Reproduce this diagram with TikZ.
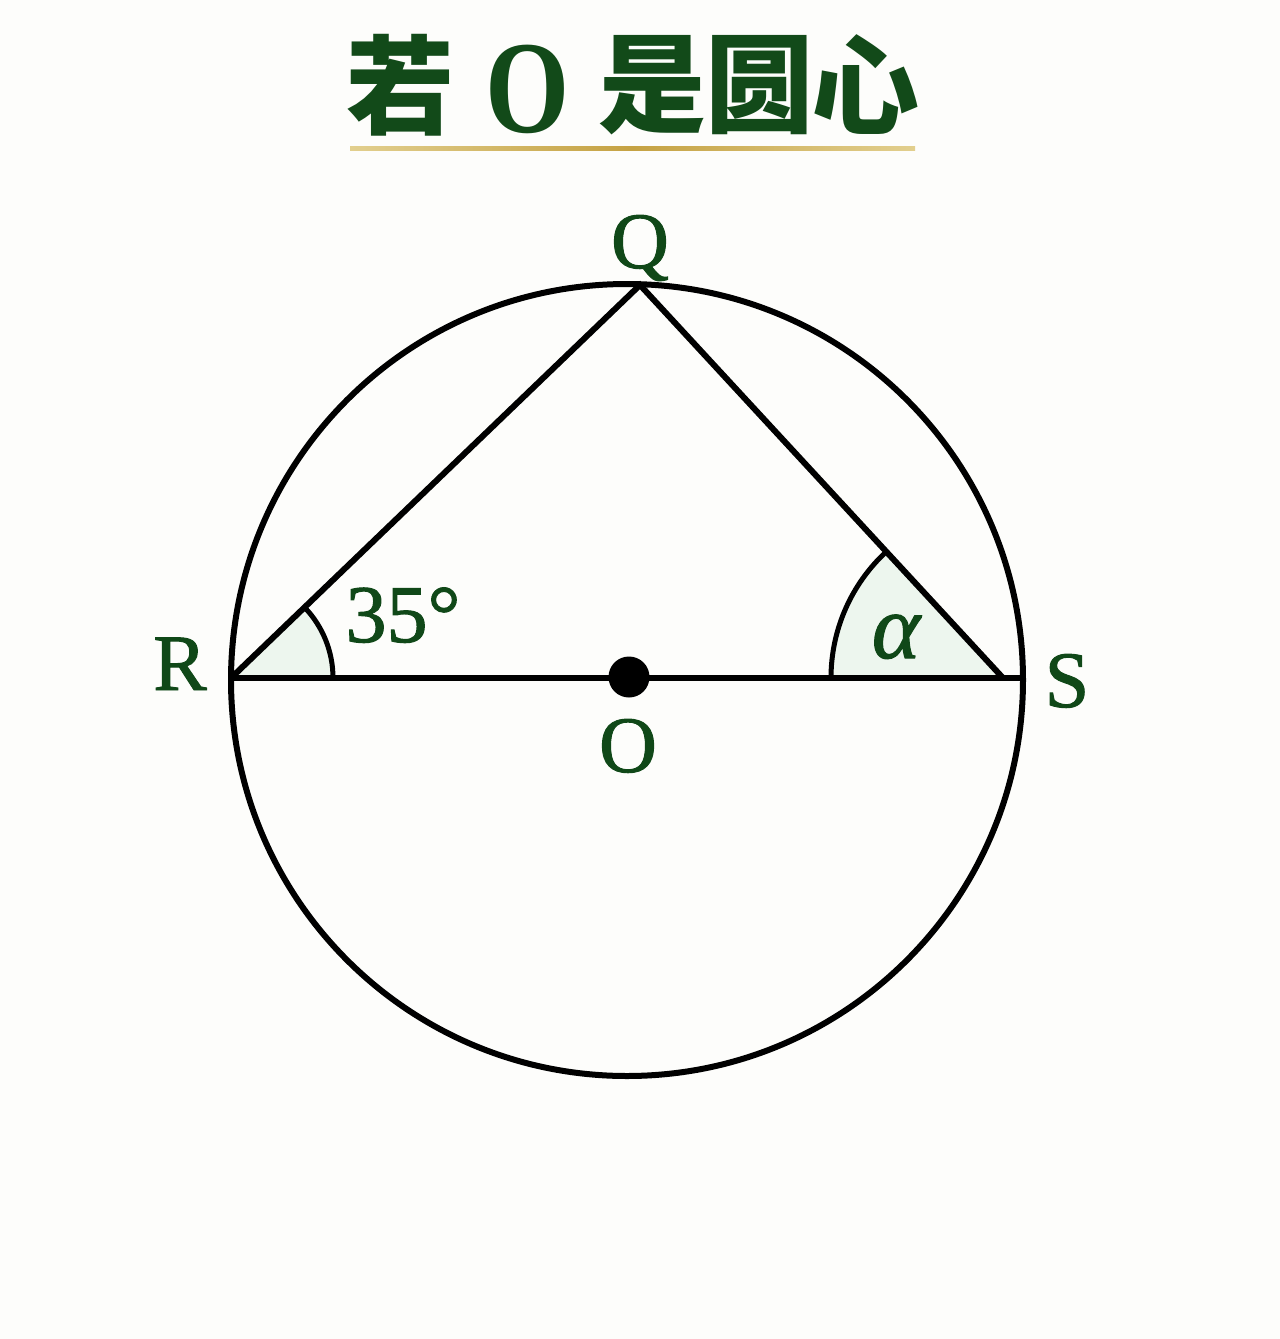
\documentclass[tikz,border=0pt]{standalone}
\usepackage{fontspec}
\usepackage{graphicx}
\setmainfont{Liberation Serif}
\newfontfamily\lblfont[FakeBold=1.2]{Liberation Serif}
\newfontfamily\cjk{Noto Sans CJK SC}
\definecolor{bgcol}{HTML}{FDFDFB}
\definecolor{dgreen}{HTML}{104818}
\definecolor{tgreen}{HTML}{124A19}
\definecolor{afill}{HTML}{EDF6EE}
\definecolor{goldA}{HTML}{E2CF8E}
\definecolor{goldB}{HTML}{C5A243}
\tikzset{
  lbl/.style={text=dgreen, inner sep=0pt, anchor=base, font=\lblfont\fontsize{80}{80}\selectfont},
  ttl/.style={text=tgreen, inner sep=0pt, anchor=center, font=\cjk\bfseries\fontsize{108}{108}\selectfont},
  geo/.style={line width=6pt, black},
  arcline/.style={line width=5pt, black},
}
\begin{document}
\begin{tikzpicture}[x=1pt,y=1pt]
\fill[bgcol] (0,0) rectangle (1280,-1339);
\useasboundingbox (0,0) rectangle (1280,-1339);
% title
\node[ttl] (t1) at (400,-85) {若};
\node[text=tgreen, inner sep=0pt, anchor=base, font=\bfseries\fontsize{132}{132}\selectfont] (t2) at (528,-132) {\scalebox{0.82}[1]{O}};
\node[ttl] (t3) at (652,-85) {是};
\node[ttl] (t4) at (759,-85) {圆};
\node[ttl] (t5) at (865,-85) {心};
\shade[left color=goldA, right color=goldA, middle color=goldB] (350,-146) rectangle (915,-150.5);
% geometry
\coordinate (C) at (627,-680);
\coordinate (Q) at (640,-285);
\coordinate (R) at (231,-678);
\coordinate (S) at (1023,-678);
\coordinate (T) at (1003,-678);
% angle fills
\fill[afill] (R) -- ++(0:102) arc (0:43.8:102) -- cycle;
\fill[afill] (T) -- ++(132.7:172) arc (132.7:180:172) -- cycle;
\draw[arcline] (R) ++(0:102) arc (0:43.8:102);
\draw[arcline] (T) ++(132.7:172) arc (132.7:180:172);
% circle and lines
\draw[geo] (C) circle (396);
\draw[geo, line join=miter] (R) -- (Q) -- (T);
\draw[geo] (R) -- (S);
\fill[black] (629,-677) circle (20.5);
\node[circle, inner sep=0pt, minimum size=0pt] (O) at (629,-677) {};
% labels
\node[lbl] (lQ) at (640,-268) {Q};
\node[lbl] (lR) at (180,-690) {R};
\node[lbl] (lS) at (1067,-707) {S};
\node[lbl] (lO) at (628,-772) {O};
\node[lbl, font=\lblfont\fontsize{82}{82}\selectfont] (l35) at (403,-642) {35°};
\node[lbl, font=\lblfont\itshape\fontsize{92}{92}\selectfont] (la) at (896,-658) {α};
\end{tikzpicture}
\end{document}
